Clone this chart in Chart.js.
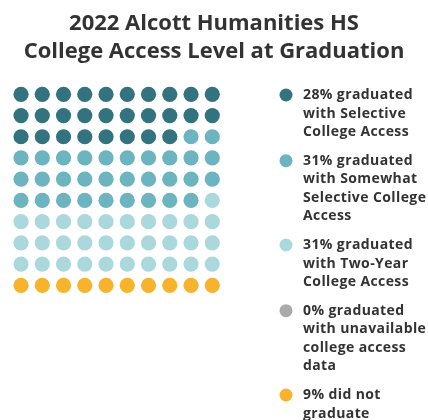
<!DOCTYPE html>
<html>
<head>
<meta charset="utf-8">
<script src="https://cdn.jsdelivr.net/npm/chart.js@4"></script>
<style>
html,body{margin:0;padding:0;background:#fff;}
#wrap{position:relative;width:428px;height:420px;}
</style>
</head>
<body>
<div id="wrap"><canvas id="c" width="428" height="420"></canvas></div>
<script>
const titleLines = ["2022 Alcott Humanities HS", "College Access Level at Graduation"];
const categories = [
  ["28% graduated", "with Selective", "College Access"],
  ["31% graduated", "with Somewhat", "Selective College", "Access"],
  ["31% graduated", "with Two-Year", "College Access"],
  ["0% graduated", "with unavailable", "college access", "data"],
  ["9% did not", "graduate"]
];
const dotCounts = [28, 31, 31, 0, 10];
const colors = ["#33727F", "#6BB4C0", "#AAD8DC", "#AAAAAA", "#F6B32B"];
const gridCols = 10;
const gridRows = 10;

const datasets = [];
let idx = 0;
dotCounts.forEach((n, k) => {
  const pts = [];
  for (let j = 0; j < n; j++, idx++) {
    pts.push({x: idx % gridCols, y: Math.floor(idx / gridCols)});
  }
  datasets.push({
    label: categories[k].join(' '),
    data: pts,
    backgroundColor: colors[k],
    borderWidth: 0,
    pointRadius: 7.6,
    pointHoverRadius: 7.6
  });
});

const FONT = '"Open Sans", sans-serif';
const textColor = '#333333';

const overlay = {
  id: 'overlay',
  afterDraw(chart) {
    const ctx = chart.ctx;
    ctx.save();
    ctx.fillStyle = textColor;
    ctx.textAlign = 'center';
    ctx.textBaseline = 'middle';
    ctx.font = 'bold 22px ' + FONT;
    titleLines.forEach((t, i) => ctx.fillText(t, 214, 23.5 + i * 28.3));
    // legend
    let y = 95;
    ctx.textAlign = 'left';
    ctx.font = 'bold 14px ' + FONT;
    ctx.letterSpacing = '0.4px';
    categories.forEach((lines, k) => {
      ctx.beginPath();
      ctx.fillStyle = colors[k];
      ctx.arc(286, y, 6.5, 0, Math.PI * 2);
      ctx.fill();
      ctx.fillStyle = textColor;
      lines.forEach((l, i) => ctx.fillText(l, 303, y + i * 18.6));
      y += lines.length * 18.6 + 9.9;
    });
    ctx.restore();
  }
};

new Chart(document.getElementById('c'), {
  type: 'scatter',
  data: {datasets},
  options: {
    responsive: false,
    animation: false,
    layout: {padding: {left: 10.4, right: 205.1, top: 83.7, bottom: 124.1}},
    scales: {
      x: {display: false, min: -0.5, max: gridCols - 0.5},
      y: {display: false, min: -0.5, max: gridRows - 0.5, reverse: true}
    },
    plugins: {legend: {display: false}, tooltip: {enabled: false}, title: {display: false}}
  },
  plugins: [overlay]
});
</script>
</body>
</html>
